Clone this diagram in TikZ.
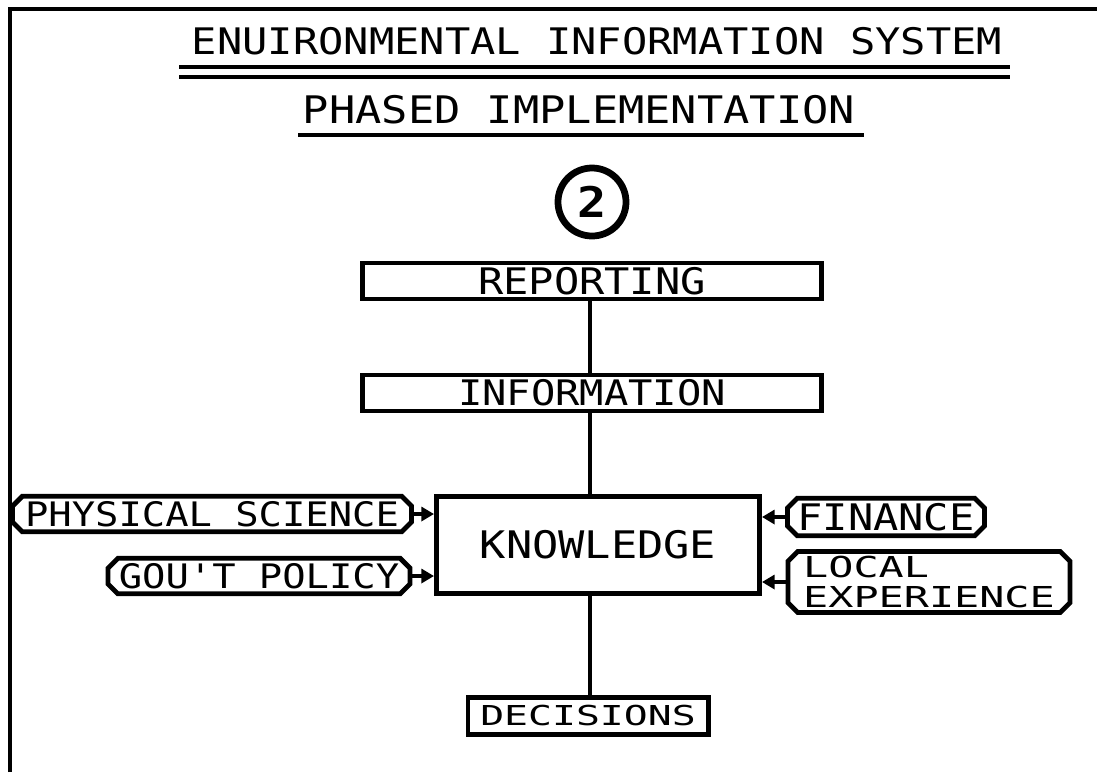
\documentclass[tikz,border=0pt]{standalone}
\usepackage{fontspec}
\newfontfamily\plotfont[FakeStretch=1.15]{DejaVu Sans Mono}
\newfontfamily\plotwide[FakeStretch=1.45]{DejaVu Sans Mono}
\usetikzlibrary{shapes.misc,arrows.meta,calc}

\begin{document}
\begin{tikzpicture}[x=0.025cm,y=-0.025cm,
    stage/.style={draw,rectangle,line width=3.5pt,inner sep=0pt,minimum height=0.9cm,
      font=\plotfont\fontsize{26}{27}\selectfont},
    source/.style={draw,chamfered rectangle,chamfered rectangle xsep=3.5pt,chamfered rectangle ysep=3.5pt,
      line width=3.4pt,inner sep=0pt,minimum height=0.875cm,font=\plotfont\fontsize{24}{25}\selectfont},
    link/.style={line width=3pt},
    feed/.style={line width=2.2pt,-{Triangle[length=9pt,width=10pt]}}]
    \useasboundingbox (0,0) rectangle (1097,772);
    % frame
    \draw[line width=3pt] (10,772) -- (10,9) -- (1097,9);
    % headings
    \node[font=\plotfont\fontsize{26}{27}\selectfont] (title) at (597,41) {ENUIRONMENTAL INFORMATION SYSTEM};
    \draw[line width=3pt] ($(title.south west)+(-8,7)$) -- ($(title.south east)+(3,7)$);
    \draw[line width=3pt] ($(title.south west)+(-8,17)$) -- ($(title.south east)+(3,17)$);
    \node[font=\plotfont\fontsize{27}{28}\selectfont] (phase) at (579,110) {PHASED IMPLEMENTATION};
    \draw[line width=3pt] ($(phase.south west)+(0,6)$) -- ($(phase.south east)+(4,6)$);
    \node[draw,circle,line width=4.8pt,minimum size=1.7cm,inner sep=0pt,
      font=\plotfont\bfseries\fontsize{30}{31}\selectfont] (num) at (592,202) {2};
    % main chain
    \coordinate (spine) at (590,0);
    \node[stage,minimum width=11.475cm] (rep) at (592,281) {REPORTING};
    \node[stage,minimum width=11.475cm,font=\plotfont\fontsize{25}{26}\selectfont] (info) at (592,393) {INFORMATION};
    \node[stage,minimum width=8.075cm,minimum height=2.425cm,
      font=\plotfont\fontsize{27}{28}\selectfont] (know) at (598,545) {KNOWLEDGE};
    \node[stage,minimum width=6cm,minimum height=0.925cm,
      font=\plotwide\fontsize{19.5}{20}\selectfont] (dec) at (588,716) {DECISIONS};
    \draw[link] (rep.south -| spine) -- (info.north -| spine);
    \draw[link] (info.south -| spine) -- (know.north -| spine);
    \draw[link] (know.south -| spine) -- (dec.north -| spine);
    % inputs
    \node[source,minimum width=9.975cm] (phys) at (212,514) {PHYSICAL SCIENCE};
    \node[source,minimum width=7.55cm] (gov) at (259,576) {GOU'T POLICY};
    \node[source,minimum width=4.925cm,font=\plotfont\fontsize{26}{27}\selectfont] (fin) at (886,517) {FINANCE};
    \node[source,minimum width=7.05cm,minimum height=1.5cm,align=left,
      font=\plotwide\fontsize{20.5}{21}\selectfont] (local) at (929,582) {LOCAL\\EXPERIENCE};
    \draw[feed] (phys.east) -- (phys.east -| know.west);
    \draw[feed] (gov.east) -- (gov.east -| know.west);
    \draw[feed] (fin.west) -- (fin.west -| know.east);
    \draw[feed] (local.west) -- (local.west -| know.east);
\end{tikzpicture}
\end{document}
